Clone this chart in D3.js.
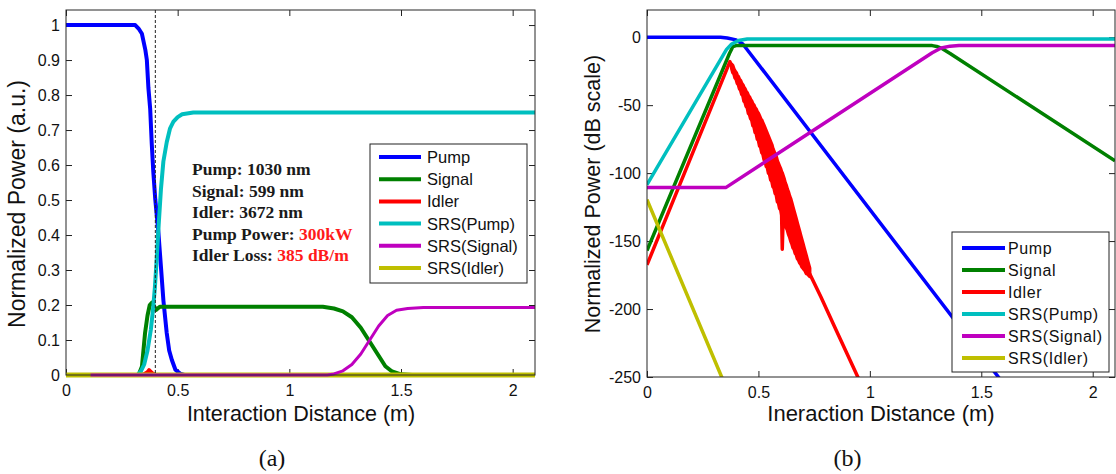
<!DOCTYPE html>
<html>
<head>
<meta charset="utf-8">
<script src="https://cdn.jsdelivr.net/npm/d3@7"></script>
<style>
  html, body { margin: 0; padding: 0; background: #fff; }
  svg { display: block; }
  .tick text { font-family: "Liberation Sans", Arial, sans-serif; font-size: 16px; fill: #111; }
  .tick line { stroke: #222; }
</style>
</head>
<body>
<svg id="chart" width="1116" height="474"></svg>
<script>
// ---------- shared axis ticks ----------
const xTicks = [0, 0.5, 1, 1.5, 2];
const yTicksLinear = [0, 0.1, 0.2, 0.3, 0.4, 0.5, 0.6, 0.7, 0.8, 0.9, 1];
const yTicksDb = [-250, -200, -150, -100, -50, 0];

// ---------- series names and colours ----------
const seriesNames = ["Pump", "Signal", "Idler", "SRS(Pump)", "SRS(Signal)", "SRS(Idler)"];
const seriesColors = ["#0000ff", "#008000", "#ff0000", "#00bfbf", "#bf00bf", "#bfbf00"];

// ---------- panel (a): normalized power, linear scale ----------
const pumpLin = [[0,1],[0.31,1],[0.325,0.99],[0.34,0.975],[0.355,0.93],[0.362,0.9],[0.369,0.82],[0.377,0.76],[0.384,0.66],[0.391,0.58],[0.4,0.5],[0.414,0.405],[0.425,0.31],[0.436,0.214],[0.451,0.12],[0.462,0.07],[0.474,0.043],[0.49,0.015],[0.511,0.004],[0.53,0],[2.1,0]];
const signalLin = [[0,0],[0.325,0],[0.34,0.024],[0.354,0.12],[0.365,0.17],[0.375,0.2],[0.385,0.207],[0.395,0.196],[0.403,0.186],[0.42,0.195],[1.15,0.195],[1.2,0.19],[1.24,0.182],[1.28,0.165],[1.32,0.135],[1.36,0.095],[1.4,0.055],[1.43,0.025],[1.46,0.01],[1.5,0.002],[1.55,0],[2.1,0]];
const idlerLin = [[0,0],[0.33,0],[0.35,0.002],[0.365,0.008],[0.372,0.014],[0.38,0.009],[0.39,0.003],[0.4,0.001],[0.42,0],[2.1,0]];
const srsPumpLin = [[0,0],[0.32,0],[0.335,0.01],[0.35,0.03],[0.365,0.07],[0.38,0.13],[0.39,0.19],[0.398,0.25],[0.406,0.33],[0.415,0.43],[0.425,0.53],[0.436,0.61],[0.451,0.665],[0.466,0.705],[0.481,0.724],[0.5,0.737],[0.52,0.745],[0.57,0.75],[2.1,0.75]];
const srsSignalLin = [[0.11,0],[1.17,0],[1.2,0.003],[1.24,0.012],[1.28,0.03],[1.32,0.06],[1.36,0.1],[1.4,0.14],[1.44,0.17],[1.48,0.185],[1.53,0.19],[1.6,0.193],[2.1,0.193]];
const srsIdlerLin = [[0,0],[2.1,0]];

// ---------- panel (b): normalized power, dB scale ----------
const pumpDb = [[0,0],[0.33,0],[0.36,-0.6],[0.4,-2],[0.43,-5],[1.6,-255]];
const signalDb = [[0,-157],[0.37,-12],[0.385,-7],[0.4,-6.2],[1.28,-6.2],[1.3,-6.8],[1.32,-8],[1.36,-12],[2.1,-91]];
// idler: clean rise, oscillating decay (upper/lower envelope), clean tail
const idlerRiseDb = [[0,-167.5],[0.372,-18],[0.38,-21.5]];
const idlerBandDb = [
  [0.380,-20,-23],[0.385,-21,-26],[0.390,-23.5,-27],[0.395,-25,-30],[0.400,-26,-31],[0.405,-28,-34],
  [0.410,-29,-35],[0.415,-31,-38],[0.420,-32,-39],[0.425,-34,-42],[0.430,-35,-43],[0.435,-37,-47],
  [0.440,-38,-48],[0.445,-40,-51],[0.450,-41,-52],[0.455,-43,-56],[0.460,-44,-57],[0.465,-46,-60],
  [0.470,-47,-61],[0.475,-49,-65],[0.480,-50,-66],[0.485,-52,-70],[0.490,-53,-71],[0.495,-55,-75],
  [0.500,-56,-76],[0.505,-58,-80],[0.510,-60,-81],[0.515,-61,-85],[0.520,-63,-86],[0.525,-65,-90],
  [0.530,-67,-91],[0.535,-69,-95],[0.540,-71,-96],[0.545,-73,-100],[0.550,-75,-101],[0.555,-77,-105],
  [0.560,-79,-106],[0.565,-82,-110],[0.570,-84,-111],[0.575,-86,-115],[0.580,-88,-116],[0.585,-91,-121],
  [0.590,-93,-122],[0.595,-95,-126],[0.600,-97,-127],[0.604,-99,-131],[0.607,-100,-156],[0.611,-102,-132],
  [0.615,-104,-135],[0.620,-107,-137],[0.625,-109,-140],[0.630,-112,-142],[0.635,-114,-145],[0.640,-117,-147],
  [0.645,-119,-150],[0.650,-122,-152],[0.655,-125,-155],[0.660,-128,-156],[0.665,-131,-159],[0.670,-134,-160],
  [0.675,-137,-163],[0.680,-140,-164],[0.685,-143,-166],[0.690,-146,-167],[0.695,-149,-169],[0.700,-152,-170],
  [0.705,-155,-171],[0.710,-158,-172],[0.715,-161,-174],[0.720,-164,-174],[0.725,-167,-175],[0.730,-170,-176]];
const idlerTailDb = [[0.73,-174],[0.78,-191],[0.85,-216],[0.946,-250],[0.96,-255]];
const srsPumpDb = [[0,-108.5],[0.357,-9],[0.38,-5],[0.41,-2.5],[0.45,-1.3],[2.1,-1.25]];
const srsSignalDb = [[0,-110.5],[0.355,-110.5],[1.28,-11.5],[1.32,-8],[1.36,-6.6],[1.4,-6.2],[2.1,-6.2]];
const srsIdlerDb = [[0,-119.5],[0.335,-250],[0.35,-256]];

// ---------- annotation of panel (a) ----------
const noteLines = [
  ["Pump: ", "1030 nm", false],
  ["Signal: ", "599 nm", false],
  ["Idler: ", "3672 nm", false],
  ["Pump Power: ", "300kW", true],
  ["Idler Loss: ", "385 dB/m", true]
];
const markerDistance = 0.4;

const svg = d3.select("#chart");
const sansFont = '"Liberation Sans", Arial, sans-serif';
const serifFont = '"Liberation Serif", "Times New Roman", serif';

function drawPanel(cfg) {
  const { left, right, top, bottom, yDomain, yTicks, series, lineWidth, id } = cfg;
  const x = d3.scaleLinear().domain([0, 2.1]).range([left, right]);
  const y = d3.scaleLinear().domain(yDomain).range([bottom, top]);
  const g = svg.append("g");

  g.append("clipPath").attr("id", id)
    .append("rect").attr("x", left).attr("y", top - 1)
    .attr("width", right - left).attr("height", bottom - top + cfg.clipExtra);

  const fmt = v => String(v);

  // bottom axis with labels, ticks pointing inward
  g.append("g").attr("transform", `translate(0,${bottom})`)
    .call(d3.axisBottom(x).tickValues(xTicks).tickSizeInner(-6).tickSizeOuter(0).tickPadding(10).tickFormat(fmt))
    .call(a => a.select(".domain").remove());
  // top axis (ticks only)
  g.append("g").attr("transform", `translate(0,${top})`)
    .call(d3.axisTop(x).tickValues(xTicks).tickSizeInner(-6).tickSizeOuter(0).tickFormat(""))
    .call(a => a.select(".domain").remove());
  // left axis with labels
  g.append("g").attr("transform", `translate(${left},0)`)
    .call(d3.axisLeft(y).tickValues(yTicks).tickSizeInner(-6).tickSizeOuter(0).tickPadding(6).tickFormat(fmt))
    .call(a => a.select(".domain").remove());
  // right axis (ticks only)
  g.append("g").attr("transform", `translate(${right},0)`)
    .call(d3.axisRight(y).tickValues(yTicks).tickSizeInner(-6).tickSizeOuter(0).tickFormat(""))
    .call(a => a.select(".domain").remove());

  const line = d3.line().x(d => x(d[0])).y(d => y(d[1]));
  const area = d3.area().x(d => x(d[0])).y0(d => y(d[2])).y1(d => y(d[1]));
  const plot = g.append("g").attr("clip-path", `url(#${id})`);
  series.forEach(s => {
    (s.parts || [s.data]).forEach(part => {
      plot.append("path").datum(part)
        .attr("d", line)
        .attr("fill", "none")
        .attr("stroke", s.color)
        .attr("stroke-width", s.width || lineWidth)
        .attr("stroke-linejoin", "round");
    });
    if (s.band) {
      plot.append("path").datum(s.band)
        .attr("d", area)
        .attr("fill", s.color)
        .attr("stroke", s.color)
        .attr("stroke-width", s.width || lineWidth)
        .attr("stroke-linejoin", "round");
    }
  });

  // axes box
  g.append("rect").attr("x", left).attr("y", top)
    .attr("width", right - left).attr("height", bottom - top)
    .attr("fill", "none").attr("stroke", "#262626").attr("stroke-width", 1);

  return { x, y, g };
}

function drawLegend(box, rows, opts) {
  const lg = svg.append("g");
  lg.append("rect").attr("x", box.x0).attr("y", box.y0)
    .attr("width", box.x1 - box.x0).attr("height", box.y1 - box.y0)
    .attr("fill", "#fff").attr("stroke", "#222").attr("stroke-width", 1);
  rows.forEach((r, i) => {
    const yy = opts.firstY + i * opts.step;
    lg.append("line").attr("x1", opts.lineX0).attr("x2", opts.lineX1)
      .attr("y1", yy).attr("y2", yy)
      .attr("stroke", r.color).attr("stroke-width", 4);
    lg.append("text").attr("x", opts.textX).attr("y", yy)
      .attr("dy", "0.36em")
      .attr("font-family", sansFont).attr("font-size", opts.fontSize)
      .attr("letter-spacing", opts.letterSpacing || 0)
      .attr("fill", "#111").text(r.name);
  });
}

// ---------- panel (a) ----------
const linSeries = [pumpLin, signalLin, idlerLin, srsPumpLin, srsIdlerLin, srsSignalLin];
const linColors = [seriesColors[0], seriesColors[1], seriesColors[2], seriesColors[3], seriesColors[5], seriesColors[4]];
const pa = drawPanel({
  id: "clipA", left: 66, right: 535, top: 10, bottom: 375,
  yDomain: [0, 1.043], yTicks: yTicksLinear, lineWidth: 4, clipExtra: 4,
  series: linSeries.map((d, i) => ({ data: d, color: linColors[i], width: i === 5 ? 3 : (i === 4 ? 5 : 4) }))
});

// dashed marker line
pa.g.append("line")
  .attr("x1", pa.x(markerDistance)).attr("x2", pa.x(markerDistance))
  .attr("y1", 10).attr("y2", 375)
  .attr("stroke", "#222").attr("stroke-width", 1).attr("stroke-dasharray", "3,2");

// annotation text
noteLines.forEach((l, i) => {
  const t = svg.append("text")
    .attr("x", 192).attr("y", 169 + i * 21.5).attr("dy", "0.35em")
    .attr("font-family", serifFont).attr("font-weight", "bold").attr("font-size", 17.5)
    .attr("fill", "#1a1a1a");
  t.append("tspan").text(l[0]);
  t.append("tspan").attr("fill", l[2] ? "#ff1a1a" : "#1a1a1a").text(l[1]);
});

drawLegend({ x0: 370, y0: 144, x1: 527, y1: 283 },
  seriesNames.map((n, i) => ({ name: n, color: seriesColors[i] })),
  { firstY: 157, step: 22.2, lineX0: 379, lineX1: 421, textX: 427, fontSize: 16.5 });

svg.append("text").attr("x", 301).attr("y", 421)
  .attr("text-anchor", "middle").attr("font-family", sansFont).attr("font-size", 21.5)
  .attr("fill", "#111").text("Interaction Distance (m)");
svg.append("text").attr("transform", "translate(25,204) rotate(-90)")
  .attr("text-anchor", "middle").attr("font-family", sansFont).attr("font-size", 23)
  .attr("fill", "#111").text("Normalized Power (a.u.)");
svg.append("text").attr("x", 272).attr("y", 466)
  .attr("text-anchor", "middle").attr("font-family", serifFont).attr("font-size", 24)
  .attr("fill", "#111").text("(a)");

// ---------- panel (b) ----------
const dbSeries = [
  { data: pumpDb, color: seriesColors[0] },
  { data: signalDb, color: seriesColors[1] },
  { parts: [idlerRiseDb, idlerTailDb], band: idlerBandDb, color: seriesColors[2] },
  { data: srsPumpDb, color: seriesColors[3] },
  { data: srsSignalDb, color: seriesColors[4] },
  { data: srsIdlerDb, color: seriesColors[5] }
];
drawPanel({
  id: "clipB", left: 647, right: 1115, top: 10, bottom: 377,
  yDomain: [-250, 20], yTicks: yTicksDb, lineWidth: 3.5, clipExtra: 1,
  series: dbSeries
});

drawLegend({ x0: 952, y0: 232, x1: 1109, y1: 372 },
  seriesNames.map((n, i) => ({ name: n, color: seriesColors[i] })),
  { firstY: 248, step: 22, lineX0: 962, lineX1: 1005, textX: 1008, fontSize: 16, letterSpacing: 0.6 });

svg.append("text").attr("x", 881).attr("y", 421)
  .attr("text-anchor", "middle").attr("font-family", sansFont).attr("font-size", 22)
  .attr("fill", "#111").text("Ineraction Distance (m)");
svg.append("text").attr("transform", "translate(600,194) rotate(-90)")
  .attr("text-anchor", "middle").attr("font-family", sansFont).attr("font-size", 21.5)
  .attr("fill", "#111").text("Normalized Power (dB scale)");
svg.append("text").attr("x", 847.5).attr("y", 466)
  .attr("text-anchor", "middle").attr("font-family", serifFont).attr("font-size", 24)
  .attr("fill", "#111").text("(b)");
</script>
</body>
</html>
